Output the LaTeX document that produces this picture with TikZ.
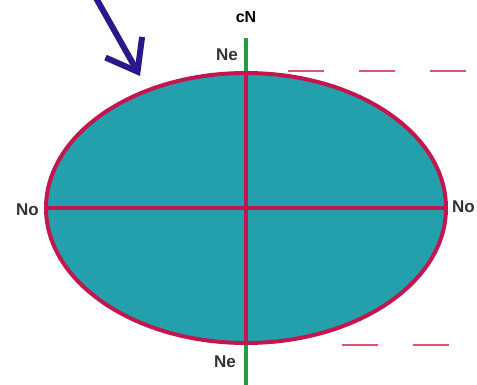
\documentclass[tikz,border=0pt]{standalone}
\usepackage{fontspec}
\setmainfont{Liberation Sans}
\usepackage{xcolor}
\definecolor{geoTeal}{RGB}{36,160,172}
\definecolor{geoRim}{RGB}{196,22,78}
\definecolor{geoAxis}{RGB}{34,156,62}
\definecolor{geoDash}{RGB}{222,86,116}
\definecolor{geoArrow}{RGB}{44,22,140}
\definecolor{geoText}{RGB}{50,50,50}
\usepackage{tikz}
\usetikzlibrary{positioning,arrows.meta,shapes.geometric}

\begin{document}
\begin{tikzpicture}[x=1pt,y=-1pt,
  globe/.style={ellipse,draw=geoRim,fill=geoTeal,line width=4pt,minimum width=400pt,minimum height=270pt,inner sep=0pt},
  lbl/.style={font=\bfseries\fontsize{17}{20}\selectfont,text=geoText,inner sep=1pt},
  rim/.style={geoRim,line width=3.5pt},
  ax/.style={geoAxis,line width=4pt},
  lvl/.style={geoDash,line width=2pt,dash pattern=on 36pt off 35pt},
  pt/.style={-{Straight Barb[length=28pt,width=42pt]},geoArrow,line width=6pt}]
  \useasboundingbox (0,0) rectangle (477,385);
  \clip (0,0) rectangle (477,385);
  % axis behind the ellipse
  \coordinate (axtop) at (246,38);
  \coordinate (axbot) at (246,390);
  \draw[ax] (axtop) -- (axbot);
  \node[globe] (earth) at (246,208) {};
  \draw[rim] (earth.west) -- (earth.east);
  \draw[rim] (earth.north) -- (earth.south);
  % level lines
  \coordinate (hiA) at (288,71);
  \coordinate (hiB) at (477,71);
  \coordinate (loA) at (342,345);
  \coordinate (loB) at (477,345);
  \draw[lvl] (hiA) -- (hiB);
  \draw[lvl] (loA) -- (loB);
  % labels
  \node[lbl,anchor=east] (neTop) at (239,55) {Ne};
  \node[lbl,anchor=east] (neBot) at (237,362) {Ne};
  \node[lbl,anchor=east] (noL) at (40,210) {No};
  \node[lbl,anchor=west] (noR) at (451,207) {No};
  \node[font=\bfseries\fontsize{16}{18}\selectfont,inner sep=1pt] (pole) at (246,17) {cN};
  % pointer
  \coordinate (ptS) at (96,-2);
  \coordinate (ptE) at (140,76);
  \draw[pt] (ptS) -- (ptE);
\end{tikzpicture}
\end{document}
